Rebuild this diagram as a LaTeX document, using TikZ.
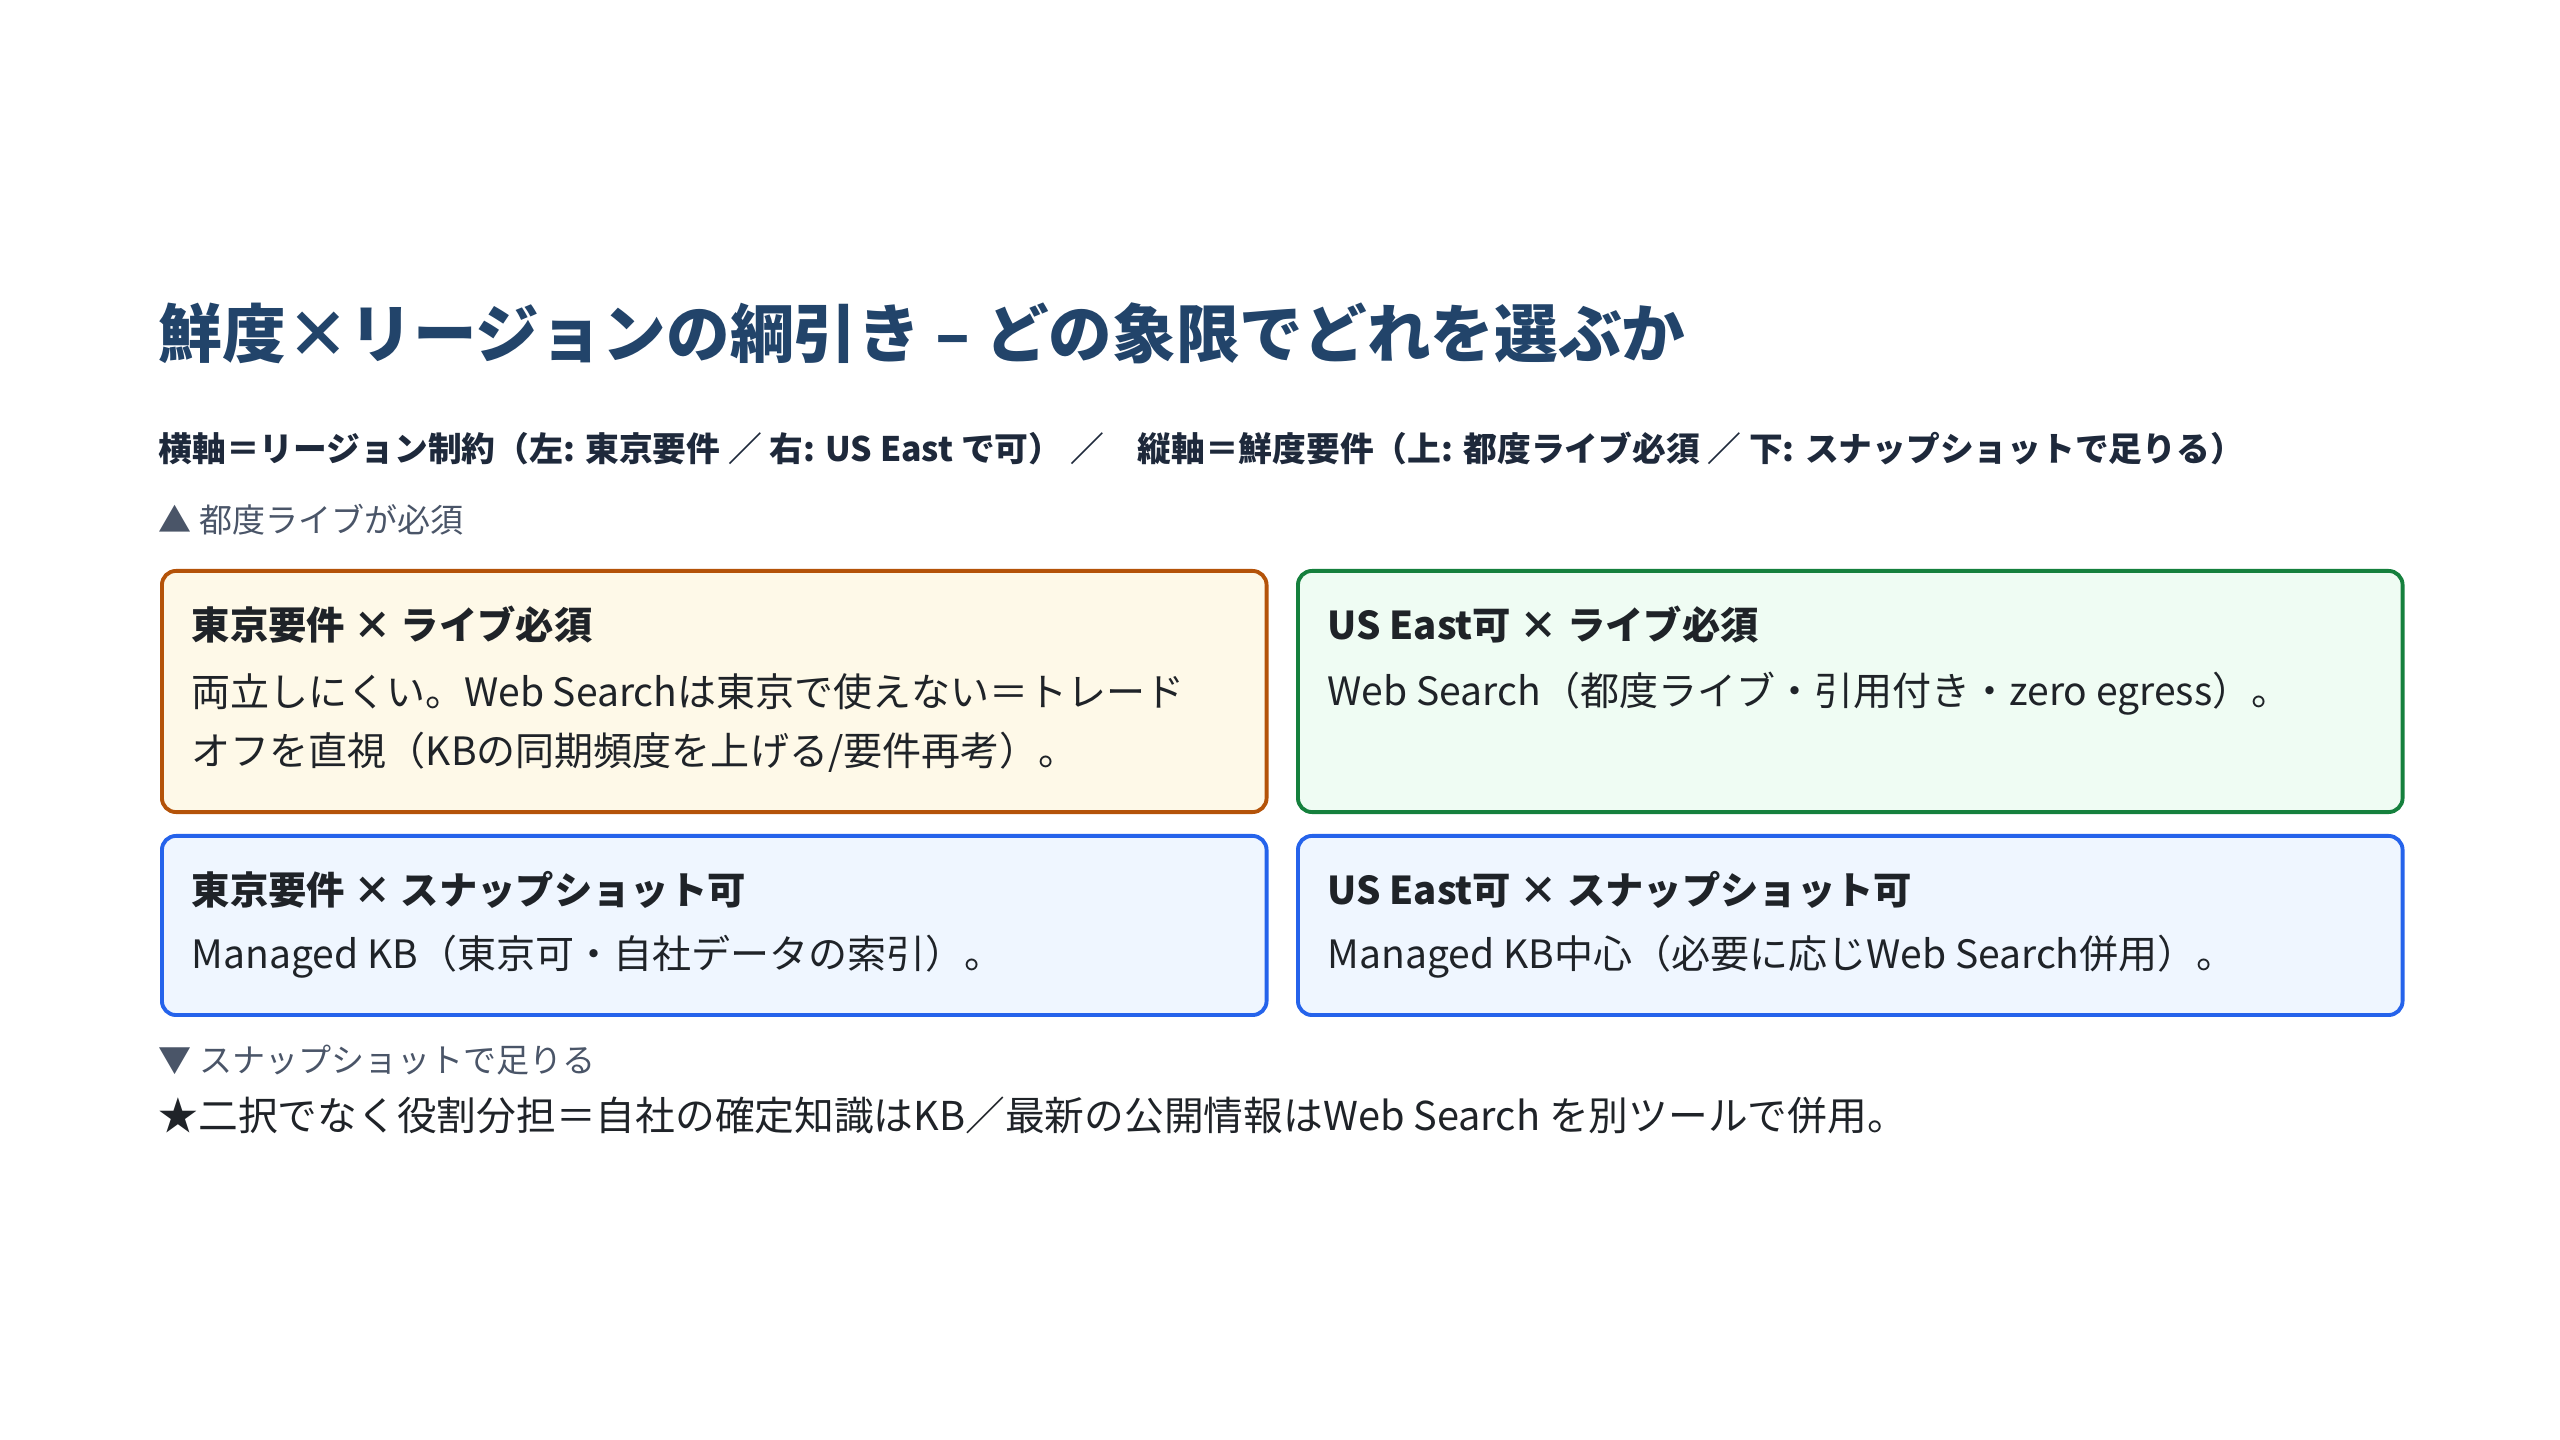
\documentclass[tikz,border=0pt]{standalone}
\usepackage{fontspec}
\setmainfont{Noto Sans CJK JP}

\definecolor{titleblue}{HTML}{22446A}
\definecolor{ink}{HTML}{1F2328}
\definecolor{subink}{HTML}{1E293B}
\definecolor{muted}{HTML}{4A5568}
\definecolor{amberline}{HTML}{B45309}
\definecolor{amberfill}{HTML}{FEF9E8}
\definecolor{greenline}{HTML}{15803D}
\definecolor{greenfill}{HTML}{EFFCF3}
\definecolor{blueline}{HTML}{2563EB}
\definecolor{bluefill}{HTML}{EFF6FF}

\tikzstyle{quad} = [draw, rounded corners=0.14cm, line width=1.1pt, anchor=north west, inner sep=0pt, minimum width=11.04cm]
\tikzstyle{head} = [anchor=west, inner sep=0pt, text=ink, font=\bfseries\fontsize{10.9}{14}\selectfont]
\tikzstyle{body} = [anchor=west, inner sep=0pt, text=ink, align=left, font=\fontsize{11.1}{16.8}\selectfont]
\tikzstyle{note} = [anchor=west, inner sep=0pt, text=muted, font=\fontsize{9.4}{12}\selectfont]

\begin{document}
\begin{tikzpicture}[x=0.01cm, y=-0.01cm]

    \useasboundingbox (0,0) rectangle (2560,1440);

\node[anchor=west, inner sep=0pt, text=titleblue, font=\bfseries\fontsize{18.1}{22}\selectfont] (title) at (158,333) {鮮度×リージョンの綱引き – どの象限でどれを選ぶか};
\node[anchor=west, inner sep=0pt, text=subink, font=\bfseries\fontsize{9.6}{12}\selectfont] (axes) at (158,448) {横軸＝リージョン制約（左: 東京要件 ／ 右: US East で可）\ ／\quad 縦軸＝鮮度要件（上: 都度ライブ必須 ／ 下: スナップショットで足りる）};
\node[note] (up) at (158,520) {▲ 都度ライブが必須};

    \node[quad, draw=amberline, fill=amberfill, minimum height=2.41cm] (tokyoLive) at (160,569) {};
    \node[quad, draw=greenline, fill=greenfill, minimum height=2.41cm] (usLive) at (1296,569) {};
    \node[quad, draw=blueline, fill=bluefill, minimum height=1.79cm] (tokyoSnap) at (160,834) {};
    \node[quad, draw=blueline, fill=bluefill, minimum height=1.79cm] (usSnap) at (1296,834) {};

\node[head] (tokyoLiveHead) at (191,625) {東京要件 × ライブ必須};
\node[body] (tokyoLiveBody) at (191,723.5) {両立しにくい。Web Searchは東京で使えない＝トレード\\オフを直視（KBの同期頻度を上げる/要件再考）。};
\node[head] (usLiveHead) at (1327,625) {US East可 × ライブ必須};
\node[body] (usLiveBody) at (1327,694) {Web Search（都度ライブ・引用付き・zero egress）。};
\node[head] (tokyoSnapHead) at (191,890) {東京要件 × スナップショット可};
\node[body] (tokyoSnapBody) at (191,957) {Managed KB（東京可・自社データの索引）。};
\node[head] (usSnapHead) at (1327,890) {US East可 × スナップショット可};
\node[body] (usSnapBody) at (1327,957) {Managed KB中心（必要に応じWeb Search併用）。};

\node[note] (down) at (158,1060) {▼ スナップショットで足りる};
\node[anchor=west, inner sep=0pt, text=ink, font=\fontsize{11.3}{14}\selectfont] (takeaway) at (158,1115) {★二択でなく役割分担＝自社の確定知識はKB／最新の公開情報はWeb Search を別ツールで併用。};

\end{tikzpicture}
\end{document}
